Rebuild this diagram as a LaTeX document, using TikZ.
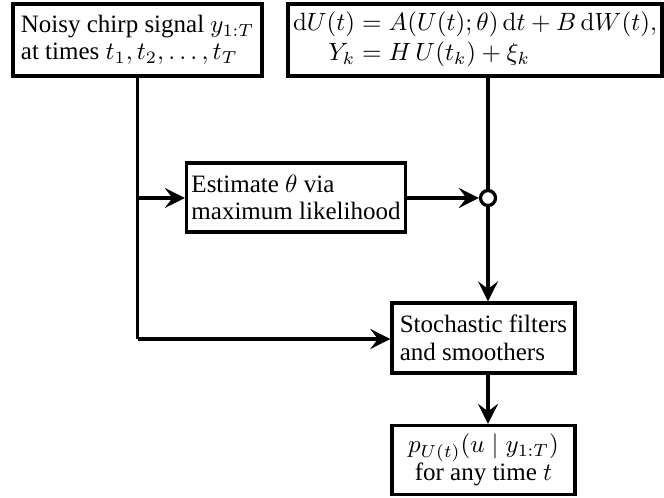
\documentclass[tikz,border=0pt]{standalone}
\usepackage{amsmath}
\usepackage[no-math]{fontspec}
\setmainfont{Liberation Serif}
\usetikzlibrary{arrows.meta}
\setlength{\jot}{1pt}
\begin{document}
\begin{tikzpicture}[x=0.4pt,y=-0.4pt,
  line width=1.3pt,
  box/.style={draw,rectangle,inner xsep=2pt,inner ysep=2pt,align=left,font=\fontsize{10pt}{11pt}\selectfont},
  arr/.style={-{Stealth[length=8pt,width=8pt,inset=3pt]}},
  junc/.style={draw,circle,fill=white,inner sep=0pt,minimum size=6pt}]
\useasboundingbox (0,0) rectangle (664,498);
\node[box,minimum width=99.6pt,minimum height=28.8pt] (b1) at (137.5,40)
  {Noisy chirp signal $y_{1:T}$\\at times $t_1,t_2,\ldots,t_T$};
\node[box,minimum width=144pt,minimum height=28.8pt] (b2) at (475,40)
  {$\begin{aligned}\mathrm{d}U(t)&=A(U(t);\theta)\,\mathrm{d}t+B\,\mathrm{d}W(t),\\ Y_k&=H\,U(t_k)+\xi_k\end{aligned}$};
\node[box,minimum width=85.6pt,minimum height=27.6pt] (b3) at (296,197.5)
  {Estimate $\theta$ via\\maximum likelihood};
\node[box,minimum width=73.2pt,minimum height=28pt] (b4) at (483.5,338)
  {Stochastic filters\\and smoothers};
\node[box,minimum width=73.2pt,minimum height=27.6pt,align=center] (b5) at (483.5,460)
  {$p_{U(t)}(u\mid y_{1:T})$\\for any time $t$};
\node[junc] (c) at (488,198) {};
\coordinate (bend) at (137.5,339);
\coordinate (split) at (137.5,198);
\draw (b1.south) -- (bend);
\draw[arr] (split) -- (b3.west |- split);
\draw[arr] (bend) -- (b4.west |- bend);
\draw[arr] (b3.east |- c) -- (c.west);
\draw (c |- b2.south) -- (c.north);
\draw[arr] (c.south) -- (c |- b4.north);
\draw[arr] (c |- b4.south) -- (c |- b5.north);
\end{tikzpicture}
\end{document}
